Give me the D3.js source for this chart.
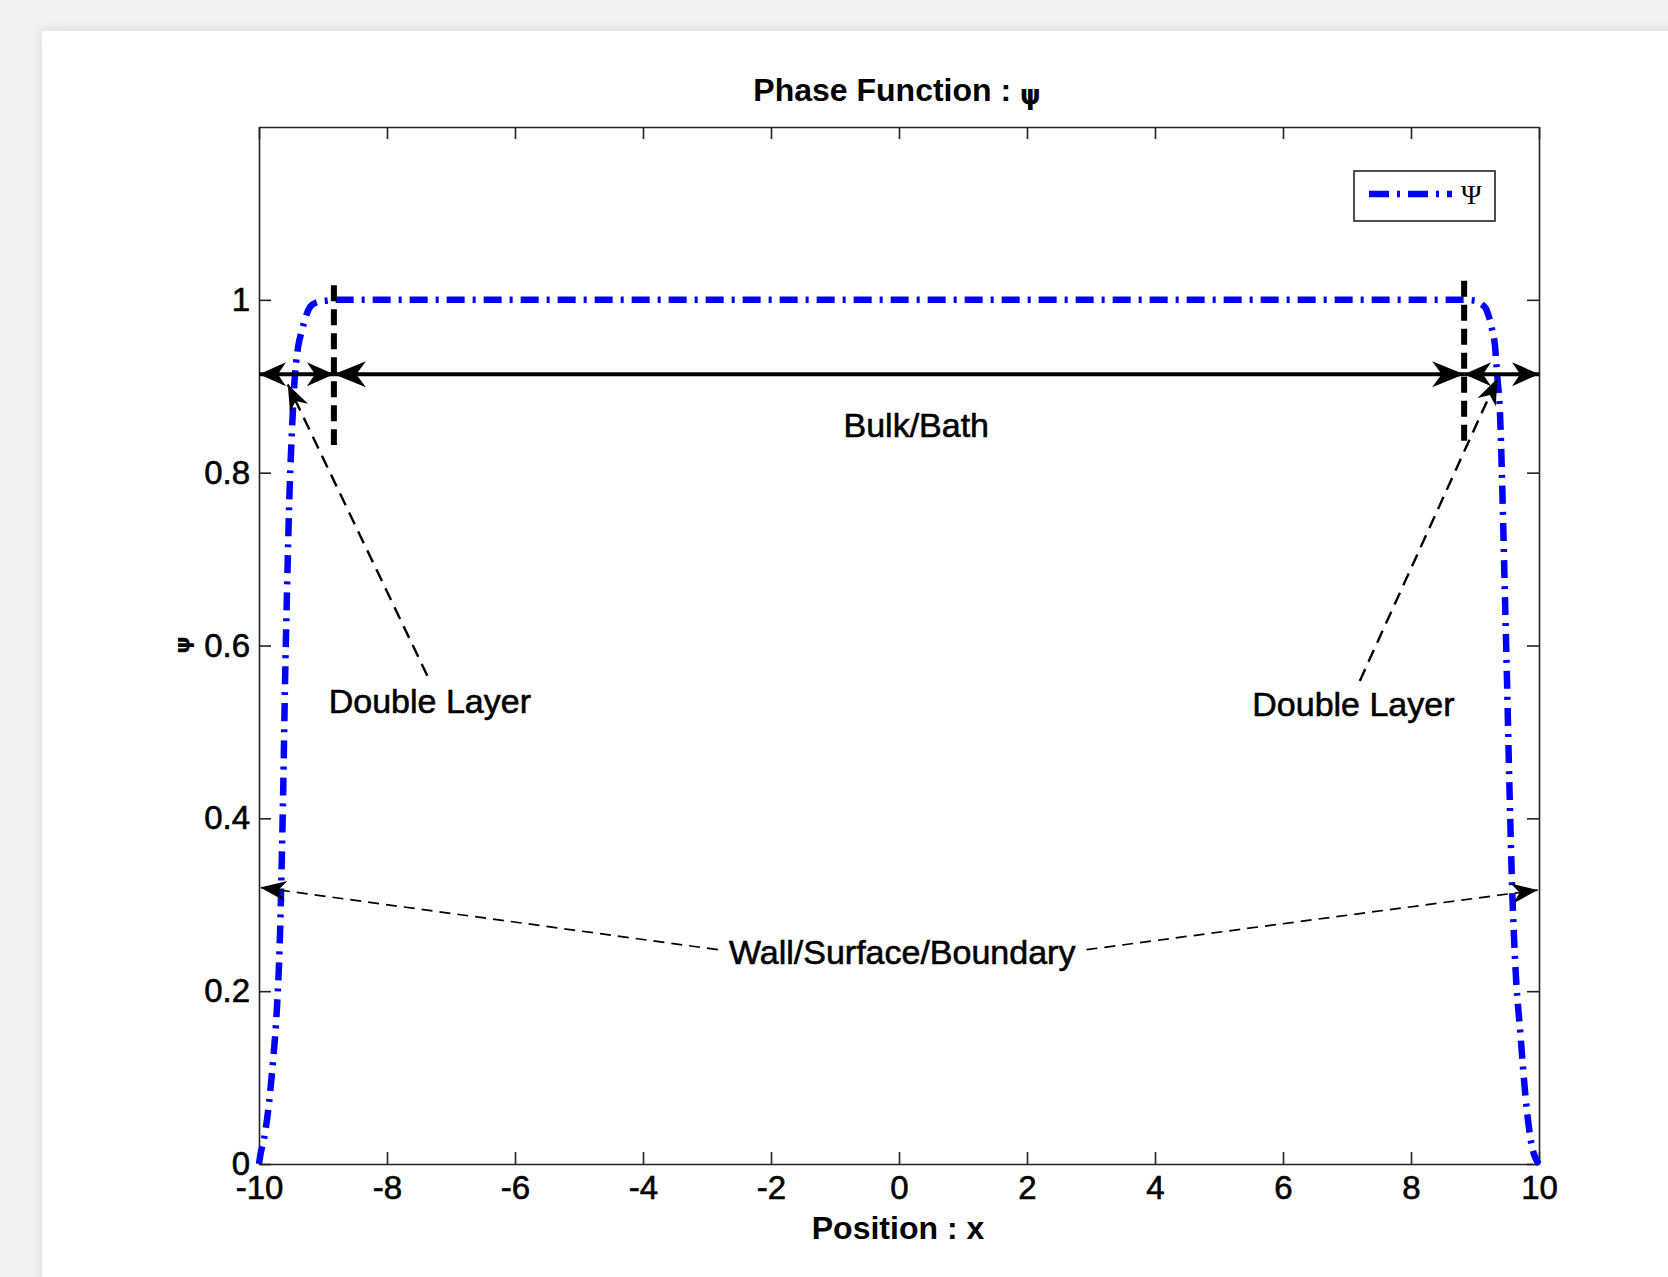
<!DOCTYPE html>
<html>
<head>
<meta charset="utf-8">
<script src="https://cdn.jsdelivr.net/npm/d3@7"></script>
<style>
  html, body { margin: 0; padding: 0; background: #f3f3f3; }
  svg { display: block; }
  text { font-family: "Liberation Sans", Arial, sans-serif; fill: #000; }
</style>
</head>
<body>
<svg id="chart" width="1668" height="1277"></svg>
<script>
// curve: position x and phase function psi
var xValues = [-10, -9.98, -9.92, -9.86, -9.78, -9.72, -9.67, -9.645, -9.62, -9.595, -9.56, -9.53,
               -9.49, -9.45, -9.39, -9.33, -9.28, -9.2, -9.1, -8.95, -8.8, -6, -3, 0, 3, 6, 8.8,
               9.0, 9.1, 9.17, 9.21, 9.26, 9.31, 9.35, 9.39, 9.42, 9.46, 9.5, 9.54, 9.58, 9.63,
               9.71, 9.79, 9.89, 9.95, 10];
var psiValues = [0, 0.01, 0.03, 0.06, 0.12, 0.18, 0.27, 0.35, 0.44, 0.55, 0.67, 0.76,
                 0.84, 0.9, 0.945, 0.964, 0.978, 0.992, 0.997, 0.999, 1, 1, 1, 1, 1, 1, 1,
                 0.999, 0.995, 0.99, 0.982, 0.968, 0.948, 0.91, 0.87, 0.8, 0.68, 0.56, 0.43, 0.32, 0.23,
                 0.15, 0.077, 0.02, 0.006, 0];

var xTicks = [-10, -8, -6, -4, -2, 0, 2, 4, 6, 8, 10];
var yTicks = [0, 0.2, 0.4, 0.6, 0.8, 1];

// annotation geometry, in data units
var dividers = [ {x: -8.83, y0: 0.832, y1: 1.017}, {x: 8.83, y0: 0.837, y1: 1.022} ];
var bulkArrow = {x0: -8.83, x1: 8.83, y: 0.914};
var layerArrows = [ {x0: -10, x1: -8.83, y: 0.914}, {x0: 8.83, x1: 10, y: 0.914} ];
var layerPointers = [ {x0: -7.37, y0: 0.565, x1: -9.55, y1: 0.902}, {x0: 7.2, y0: 0.559, x1: 9.35, y1: 0.909} ];
var wallPointers = [ {x0: -2.83, y0: 0.248, x1: -9.98, y1: 0.32}, {x0: 2.93, y0: 0.248, x1: 9.98, y1: 0.317} ];
var labels = [
  {text: "Bulk/Bath", x: 0.27, y: 0.855},
  {text: "Double Layer", x: -7.33, y: 0.536},
  {text: "Double Layer", x: 7.1, y: 0.532},
  {text: "Wall/Surface/Boundary", x: 0.05, y: 0.245}
];

var plotL = 259, plotR = 1539, plotT = 127, plotB = 1164;

var svg = d3.select("#chart");

// window background + white figure panel
var defs = svg.append("defs");
var f = defs.append("filter").attr("id", "shadow").attr("x", "-5%").attr("y", "-5%").attr("width", "110%").attr("height", "110%");
f.append("feDropShadow").attr("dx", 0).attr("dy", 0).attr("stdDeviation", 7)
  .attr("flood-color", "#000").attr("flood-opacity", 0.12);

svg.append("rect").attr("width", 1668).attr("height", 1277).attr("fill", "#f3f3f3");
svg.append("rect").attr("x", 42).attr("y", 31).attr("width", 1700).attr("height", 1300)
  .attr("fill", "#fff").attr("filter", "url(#shadow)");

var x = d3.scaleLinear().domain([-10, 10]).range([plotL, plotR]);
var y = d3.scaleLinear().domain([0, 1.2]).range([plotB, plotT]);

// axes, ticks pointing inward on all four sides
var fmt = function(d) { return String(d); };
var gx = svg.append("g").attr("transform", "translate(0," + plotB + ")")
  .call(d3.axisBottom(x).tickValues(xTicks).tickFormat(fmt).tickSizeInner(-12).tickSizeOuter(0).tickPadding(12));
var gy = svg.append("g").attr("transform", "translate(" + plotL + ",0)")
  .call(d3.axisLeft(y).tickValues(yTicks).tickFormat(fmt).tickSizeInner(-12).tickSizeOuter(0).tickPadding(9));
var gt = svg.append("g").attr("transform", "translate(0," + plotT + ")")
  .call(d3.axisTop(x).tickValues(xTicks).tickFormat("").tickSizeInner(-12).tickSizeOuter(0));
var gr = svg.append("g").attr("transform", "translate(" + plotR + ",0)")
  .call(d3.axisRight(y).tickValues(yTicks).tickFormat("").tickSizeInner(-12).tickSizeOuter(0));

[gx, gy, gt, gr].forEach(function(g) {
  g.selectAll("path.domain").attr("stroke", "#222").attr("stroke-width", 1.6);
  g.selectAll(".tick line").attr("stroke", "#222").attr("stroke-width", 1.6);
  g.selectAll(".tick text").style("font-family", '"Liberation Sans", Arial, sans-serif')
    .style("font-size", "33px").attr("fill", "#000")
    .attr("stroke", "#000").attr("stroke-width", 0.6);
});

// title and axis labels
var title = svg.append("text").attr("x", 897).attr("y", 101).attr("text-anchor", "middle")
  .style("font-size", "32px").style("font-weight", "bold");
title.append("tspan").text("Phase Function : ");
title.append("tspan").style("font-family", '"DejaVu Sans", sans-serif').style("font-size", "26px")
  .attr("dy", 3).text("\u03c8");

svg.append("text").attr("x", 898).attr("y", 1239).attr("text-anchor", "middle")
  .style("font-size", "32px").style("font-weight", "bold").text("Position : x");

svg.append("text").attr("transform", "translate(190,645) rotate(-90)").attr("text-anchor", "middle")
  .style("font-family", '"DejaVu Sans", sans-serif').style("font-size", "22px").style("font-weight", "bold")
  .text("\u03c8");

// the psi curve
var pts = xValues.map(function(v, i) { return [v, psiValues[i]]; });
var line = d3.line().x(function(d) { return x(d[0]); }).y(function(d) { return y(d[1]); })
  .curve(d3.curveMonotoneX);
svg.append("path").datum(pts).attr("d", line)
  .attr("fill", "none").attr("stroke", "#0000ff").attr("stroke-width", 6.5)
  .attr("stroke-dasharray", "18,8,3,8");

// arrow head helper: tip at (x2,y2) pointing away from (x1,y1)
function head(x1, y1, x2, y2, L, W) {
  var a = Math.atan2(y2 - y1, x2 - x1), c = Math.cos(a), s = Math.sin(a);
  var p = [[0, 0], [-L, W / 2], [-0.7 * L, 0], [-L, -W / 2]].map(function(q) {
    return [x2 + q[0] * c - q[1] * s, y2 + q[0] * s + q[1] * c];
  });
  return "M" + p.join("L") + "Z";
}

var ann = svg.append("g");

dividers.forEach(function(d) {
  ann.append("line").attr("x1", x(d.x)).attr("x2", x(d.x)).attr("y1", y(d.y1)).attr("y2", y(d.y0))
    .attr("stroke", "#000").attr("stroke-width", 6).attr("stroke-dasharray", "16,8");
});

function doubleArrow(d, L, W, sw) {
  var ax = x(d.x0), bx = x(d.x1), yy = y(d.y);
  ann.append("line").attr("x1", ax).attr("x2", bx).attr("y1", yy).attr("y2", yy)
    .attr("stroke", "#000").attr("stroke-width", sw);
  ann.append("path").attr("d", head(bx, yy, ax, yy, L, W)).attr("fill", "#000");
  ann.append("path").attr("d", head(ax, yy, bx, yy, L, W)).attr("fill", "#000");
}
doubleArrow(bulkArrow, 32, 26, 4);
layerArrows.forEach(function(d) { doubleArrow(d, 27, 24, 4); });

function pointer(d, dash, sw) {
  var ax = x(d.x0), ay = y(d.y0), bx = x(d.x1), by = y(d.y1);
  ann.append("line").attr("x1", ax).attr("y1", ay).attr("x2", bx).attr("y2", by)
    .attr("stroke", "#000").attr("stroke-width", sw).attr("stroke-dasharray", dash);
  ann.append("path").attr("d", head(ax, ay, bx, by, 26, 20)).attr("fill", "#000");
}
layerPointers.forEach(function(d) { pointer(d, "13,8", 2.4); });
wallPointers.forEach(function(d) { pointer(d, "11,7", 1.7); });

labels.forEach(function(d) {
  ann.append("text").attr("x", x(d.x)).attr("y", y(d.y)).attr("dy", "0.35em")
    .attr("text-anchor", "middle").style("font-size", "34px")
    .attr("stroke", "#000").attr("stroke-width", 0.6).text(d.text);
});

// legend
var lg = svg.append("g");
lg.append("rect").attr("x", 1354).attr("y", 171).attr("width", 141).attr("height", 50)
  .attr("fill", "#fff").attr("stroke", "#222").attr("stroke-width", 1.6);
lg.append("line").attr("x1", 1369).attr("x2", 1452).attr("y1", 194).attr("y2", 194)
  .attr("stroke", "#0000ff").attr("stroke-width", 6.5).attr("stroke-dasharray", "20,8,3,8");
lg.append("text").attr("x", 1461).attr("y", 204).style("font-family", '"Liberation Serif", "DejaVu Serif", serif')
  .style("font-size", "28px").text("\u03a8");
</script>
</body>
</html>
